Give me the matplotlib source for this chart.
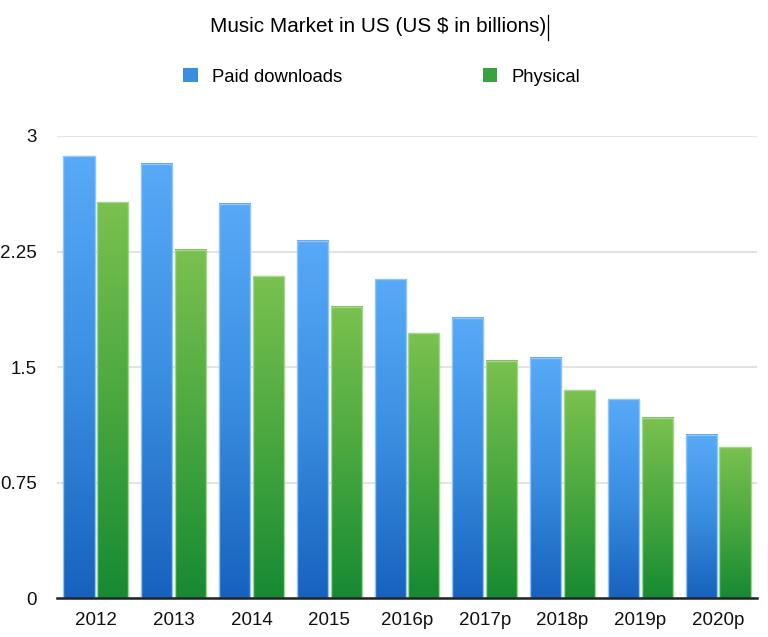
import numpy as np
import matplotlib.pyplot as plt
from matplotlib.colors import LinearSegmentedColormap
from matplotlib.lines import Line2D
from matplotlib.patches import Patch

plt.rcParams['font.family'] = ['Liberation Sans', 'DejaVu Sans']

years = ['2012', '2013', '2014', '2015', '2016p', '2017p', '2018p', '2019p', '2020p']
paid_downloads = [2.87, 2.82, 2.56, 2.32, 2.07, 1.82, 1.56, 1.29, 1.06]
physical = [2.57, 2.26, 2.09, 1.89, 1.72, 1.54, 1.35, 1.17, 0.98]
y_ticks = [0, 0.75, 1.5, 2.25, 3]
y_tick_labels = ['0', '0.75', '1.5', '2.25', '3']

blue_cmap = LinearSegmentedColormap.from_list('blue', ['#1762be', '#3a8ee0', '#58aaf8'])
green_cmap = LinearSegmentedColormap.from_list('green', ['#168a33', '#4aa83f', '#7ac14f'])


def gradient_bars(ax, x, heights, width, cmap, edge):
    bars = ax.bar(x, heights, width, color='none', edgecolor=edge, linewidth=1, zorder=3)
    grad = np.linspace(0, 1, 256).reshape(-1, 1)
    for rect in bars:
        x0, w, h = rect.get_x(), rect.get_width(), rect.get_height()
        ax.imshow(grad, cmap=cmap, origin='lower', aspect='auto',
                  extent=(x0, x0 + w, 0, h), zorder=2)
    return bars


fig = plt.figure(figsize=(7.68, 6.37), dpi=100)
ax = fig.add_axes([0.0742, 0.0612, 0.9115, 0.7253])

x = np.arange(len(years))
w = 0.40
gradient_bars(ax, x - 0.217, paid_downloads, w, blue_cmap, '#8ec5fa')
gradient_bars(ax, x + 0.217, physical, w, green_cmap, '#a3d68c')

ax.set_xlim(-0.5, len(years) - 0.5)
ax.set_ylim(0, 3)
ax.set_yticks(y_ticks)
ax.set_yticklabels(y_tick_labels)
ax.set_xticks(x)
ax.set_xticklabels(years)
ax.tick_params(axis='both', length=0, labelsize=13.5, colors='#111111')
ax.tick_params(axis='y', pad=14.4)
ax.tick_params(axis='x', pad=10)

ax.grid(axis='y', color='#e3e3e3', linewidth=1.5, zorder=0)
ax.set_axisbelow(True)
for side in ['top', 'right', 'left']:
    ax.spines[side].set_visible(False)
ax.spines['bottom'].set_color('#222222')
ax.spines['bottom'].set_linewidth(1.8)
ax.spines['bottom'].set_zorder(5)

fig.text(0.493, 0.958, 'Music Market in US (US $ in billions)', ha='center', va='center',
         fontsize=14.9, color='#000000')
# text cursor after the title
fig.add_artist(Line2D([548 / 768, 548 / 768], [1 - 15 / 637, 1 - 40 / 637],
                      color='#000000', linewidth=0.9))

handles = [Patch(facecolor='#3a8ee0', edgecolor='none'),
           Patch(facecolor='#3aa140', edgecolor='none')]
fig.legend(handles, ['Paid downloads', 'Physical'], loc='center', ncol=2,
           bbox_to_anchor=(0.497, 0.879), frameon=False, fontsize=13.3,
           handlelength=0.8, handleheight=0.8, handletextpad=0.75, columnspacing=7.6)

fig.savefig('out.png', dpi=100)
